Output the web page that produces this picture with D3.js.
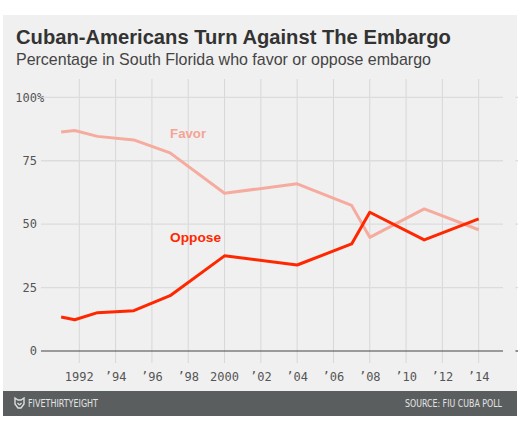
<!DOCTYPE html>
<html><head><meta charset="utf-8">
<script src="https://cdn.jsdelivr.net/npm/d3@7"></script>
<style>
html,body{margin:0;padding:0;background:#fff;}
svg{display:block;}
</style></head>
<body>
<svg id="c" width="520" height="437"></svg>
<script>
const years = [1991.0, 1991.75, 1993, 1995, 1997, 2000, 2004, 2007, 2008, 2011, 2014];
const favor = [86.3, 86.9, 84.6, 83.2, 78.1, 62.2, 65.9, 57.4, 44.8, 56.0, 47.8];
const oppose = [13.4, 12.3, 15.1, 15.9, 21.8, 37.5, 33.9, 42.2, 54.7, 43.8, 52.1];
const xTickYears = [1992, 1994, 1996, 1998, 2000, 2002, 2004, 2006, 2008, 2010, 2012, 2014];
const xTickLabels = ["1992", "\u201994", "\u201996", "\u201998", "2000", "\u201902", "\u201904", "\u201906", "\u201908", "\u201910", "\u201912", "\u201914"];
const yTicks = [0, 25, 50, 75, 100];
const yTickLabels = ["0", "25", "50", "75", "100"];
const seriesNames = ["Favor", "Oppose"];
const titleText = "Cuban-Americans Turn Against The Embargo";
const subtitleText = "Percentage in South Florida who favor or oppose embargo";
const footerLeft = "FIVETHIRTYEIGHT";
const footerRight = "SOURCE: FIU CUBA POLL";

const svg = d3.select("#c");

// panel
svg.append("rect").attr("x",3).attr("y",15).attr("width",514).attr("height",377).attr("fill","#f0f0f0");
svg.append("rect").attr("x",3).attr("y",391).attr("width",514).attr("height",25).attr("fill","#5b5e5f");

function fit(sel, target){
  const n = sel.node();
  const w = n.getComputedTextLength();
  const fs = parseFloat(sel.attr("font-size"));
  sel.attr("font-size", (fs*target/w).toFixed(2));
}

const title = svg.append("text").attr("x",16).attr("y",43.5)
  .attr("font-family","'Liberation Sans', Arial, sans-serif").attr("font-weight","bold")
  .attr("font-size",20).attr("fill","#333").text(titleText);
fit(title, 435);
const sub = svg.append("text").attr("x",16).attr("y",64.5)
  .attr("font-family","'Liberation Sans', Arial, sans-serif")
  .attr("font-size",16).attr("fill","#444").text(subtitleText);
fit(sub, 415);

const x = d3.scaleLinear().domain([1992, 2014]).range([79.3, 478.7]);
const y = d3.scaleLinear().domain([0, 100]).range([351, 97.3]);

const g = svg.append("g");
g.selectAll("line.vg").data(xTickYears).enter().append("line")
  .attr("x1",d=>x(d)).attr("x2",d=>x(d)).attr("y1",79).attr("y2",363)
  .attr("stroke","#d7d7d7").attr("stroke-width",1);
g.selectAll("line.hg").data(yTicks.filter(d=>d>0)).enter().append("line")
  .attr("x1",41).attr("x2",503).attr("y1",d=>y(d)).attr("y2",d=>y(d))
  .attr("stroke","#dcdcdc").attr("stroke-width",1.3);
g.selectAll("line.rt").data(yTicks).enter().append("line")
  .attr("x1",515.5).attr("x2",518).attr("y1",d=>y(d)).attr("y2",d=>y(d))
  .attr("stroke",d=>d===0?"#555":"#ddd").attr("stroke-width",1.3);
g.append("line").attr("x1",41).attr("x2",503).attr("y1",y(0)).attr("y2",y(0))
  .attr("stroke","#444").attr("stroke-width",1.2);

const mono = "'DejaVu Sans Mono', monospace";
g.selectAll("text.yl").data(yTicks).enter().append("text")
  .attr("x",37).attr("y",d=>y(d)).attr("dy","0.36em")
  .attr("text-anchor","end").attr("font-family",mono).attr("font-size",12)
  .attr("fill","#555").text((d,i)=>yTickLabels[i]);
g.append("text").attr("x",37).attr("y",y(100)).attr("dy","0.36em")
  .attr("font-family",mono).attr("font-size",12).attr("fill","#555").text("%");

g.selectAll("text.xl").data(xTickYears).enter().append("text")
  .attr("x",d=>x(d)).attr("y",380.5).attr("text-anchor","middle")
  .attr("font-family",mono).attr("font-size",12).attr("fill","#555")
  .text((d,i)=>xTickLabels[i]);

const line = d3.line().x(d=>x(d[0])).y(d=>y(d[1]));
const favorPts = years.map((yr,i)=>[yr,favor[i]]);
const opposePts = years.map((yr,i)=>[yr,oppose[i]]);
g.append("path").attr("d",line(favorPts)).attr("fill","none")
  .attr("stroke","#f5ab9e").attr("stroke-width",3).attr("stroke-linejoin","round");
g.append("path").attr("d",line(opposePts)).attr("fill","none")
  .attr("stroke","#ff2700").attr("stroke-width",3).attr("stroke-linejoin","round");

const lf = "'Liberation Sans Narrow', 'Liberation Sans', sans-serif";
const fl = g.append("text").attr("x",x(1997)).attr("y",137.5)
  .attr("font-family",lf).attr("font-weight","bold").attr("font-size",14.5)
  .attr("fill","#f5a394").text(seriesNames[0]);
fit(fl, 36);
const ol = g.append("text").attr("x",x(1997)).attr("y",241.5)
  .attr("font-family",lf).attr("font-weight","bold").attr("font-size",14.5)
  .attr("fill","#ff2700").text(seriesNames[1]);
fit(ol, 51);

// footer
const logo = svg.append("g").attr("transform","translate(15,398)");
logo.append("path").attr("d","M0,0 L3,2 L6,2 L9,0 L9,6 L6,10 L3,10 L0,6 Z")
  .attr("fill","none").attr("stroke","#ddd").attr("stroke-width",1.4);
logo.append("path").attr("d","M2.5,5 L4.5,7 M6.5,5 L4.5,7").attr("stroke","#ddd").attr("stroke-width",1.2);
const fnt = "'Liberation Sans Narrow', 'DejaVu Sans Condensed', sans-serif";
svg.append("text").attr("x",28).attr("y",407).attr("font-family",fnt)
  .attr("font-size",10).attr("fill","#e4e4e4")
  .attr("textLength",70).attr("lengthAdjust","spacingAndGlyphs").text(footerLeft);
svg.append("text").attr("x",405).attr("y",407).attr("font-family",fnt)
  .attr("font-size",10).attr("fill","#e4e4e4")
  .attr("textLength",97).attr("lengthAdjust","spacingAndGlyphs").text(footerRight);
</script>
</body></html>
